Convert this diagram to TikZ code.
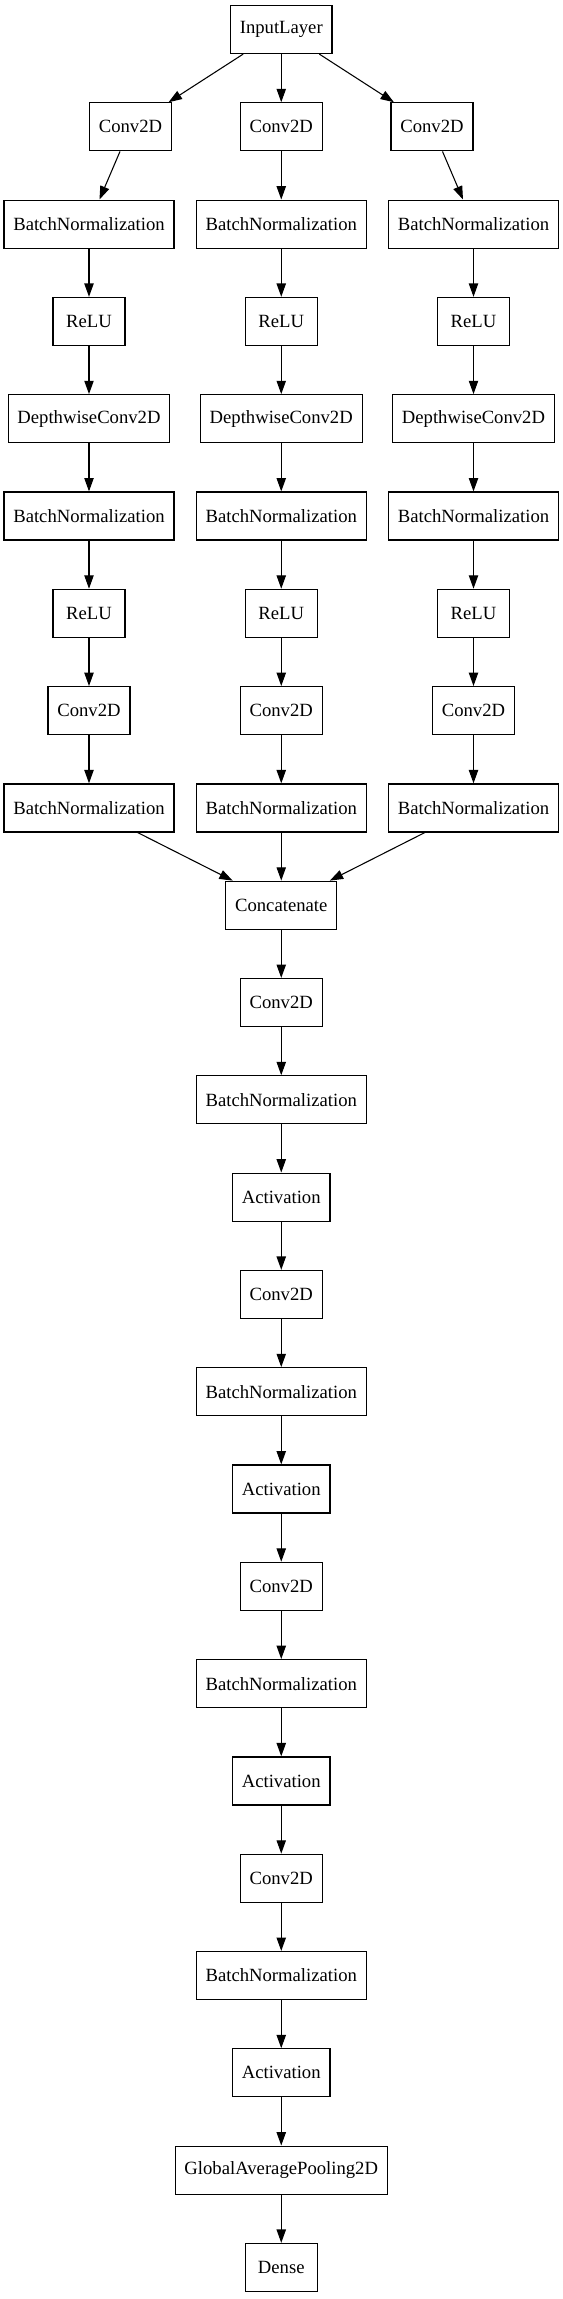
\documentclass[tikz,border=0pt]{standalone}
\usepackage{fontspec}
\setmainfont{Liberation Serif}
\usetikzlibrary{arrows.meta}
\begin{document}
\begin{tikzpicture}[x=0.75pt,y=-0.75pt,
  layer/.style={draw, line width=0.9pt, rectangle, minimum height=36pt, minimum width=54pt,
    inner xsep=7pt, inner ysep=0pt, fill=white, font=\fontsize{14pt}{16pt}\selectfont},
  conn/.style={-{Triangle[length=10pt,width=7pt]}, line width=0.8pt}]
\useasboundingbox (0,0) rectangle (563,2299);

\node[layer] (in) at (281.25,29.5) {InputLayer};

\foreach \c/\x/\xa in {L/89/130.5, M/281.25/281.25, R/473.5/432} {
  \node[layer] (\c1) at (\xa,126.8) {Conv2D};
  \node[layer] (\c2) at (\x,224.1) {BatchNormalization};
  \node[layer] (\c3) at (\x,321.4) {ReLU};
  \node[layer] (\c4) at (\x,418.7) {DepthwiseConv2D};
  \node[layer] (\c5) at (\x,516.0) {BatchNormalization};
  \node[layer] (\c6) at (\x,613.3) {ReLU};
  \node[layer] (\c7) at (\x,710.6) {Conv2D};
  \node[layer] (\c8) at (\x,807.9) {BatchNormalization};
  \draw[conn] (in) -- (\c1);
  \draw[conn] (\c1) -- (\c2);
  \draw[conn] (\c2) -- (\c3);
  \draw[conn] (\c3) -- (\c4);
  \draw[conn] (\c4) -- (\c5);
  \draw[conn] (\c5) -- (\c6);
  \draw[conn] (\c6) -- (\c7);
  \draw[conn] (\c7) -- (\c8);
}

\node[layer] (t9)  at (281.25,905.2)  {Concatenate};
\node[layer] (t10) at (281.25,1002.5) {Conv2D};
\node[layer] (t11) at (281.25,1099.8) {BatchNormalization};
\node[layer] (t12) at (281.25,1197.1) {Activation};
\node[layer] (t13) at (281.25,1294.4) {Conv2D};
\node[layer] (t14) at (281.25,1391.7) {BatchNormalization};
\node[layer] (t15) at (281.25,1489.0) {Activation};
\node[layer] (t16) at (281.25,1586.3) {Conv2D};
\node[layer] (t17) at (281.25,1683.6) {BatchNormalization};
\node[layer] (t18) at (281.25,1780.9) {Activation};
\node[layer] (t19) at (281.25,1878.2) {Conv2D};
\node[layer] (t20) at (281.25,1975.5) {BatchNormalization};
\node[layer] (t21) at (281.25,2072.8) {Activation};
\node[layer] (t22) at (281.25,2170.1) {GlobalAveragePooling2D};
\node[layer] (t23) at (281.25,2267.4) {Dense};

\draw[conn] (L8) -- (t9);
\draw[conn] (M8) -- (t9);
\draw[conn] (R8) -- (t9);
\foreach \a/\b in {9/10,10/11,11/12,12/13,13/14,14/15,15/16,16/17,17/18,18/19,19/20,20/21,21/22,22/23} {
  \draw[conn] (t\a) -- (t\b);
}
\end{tikzpicture}
\end{document}
